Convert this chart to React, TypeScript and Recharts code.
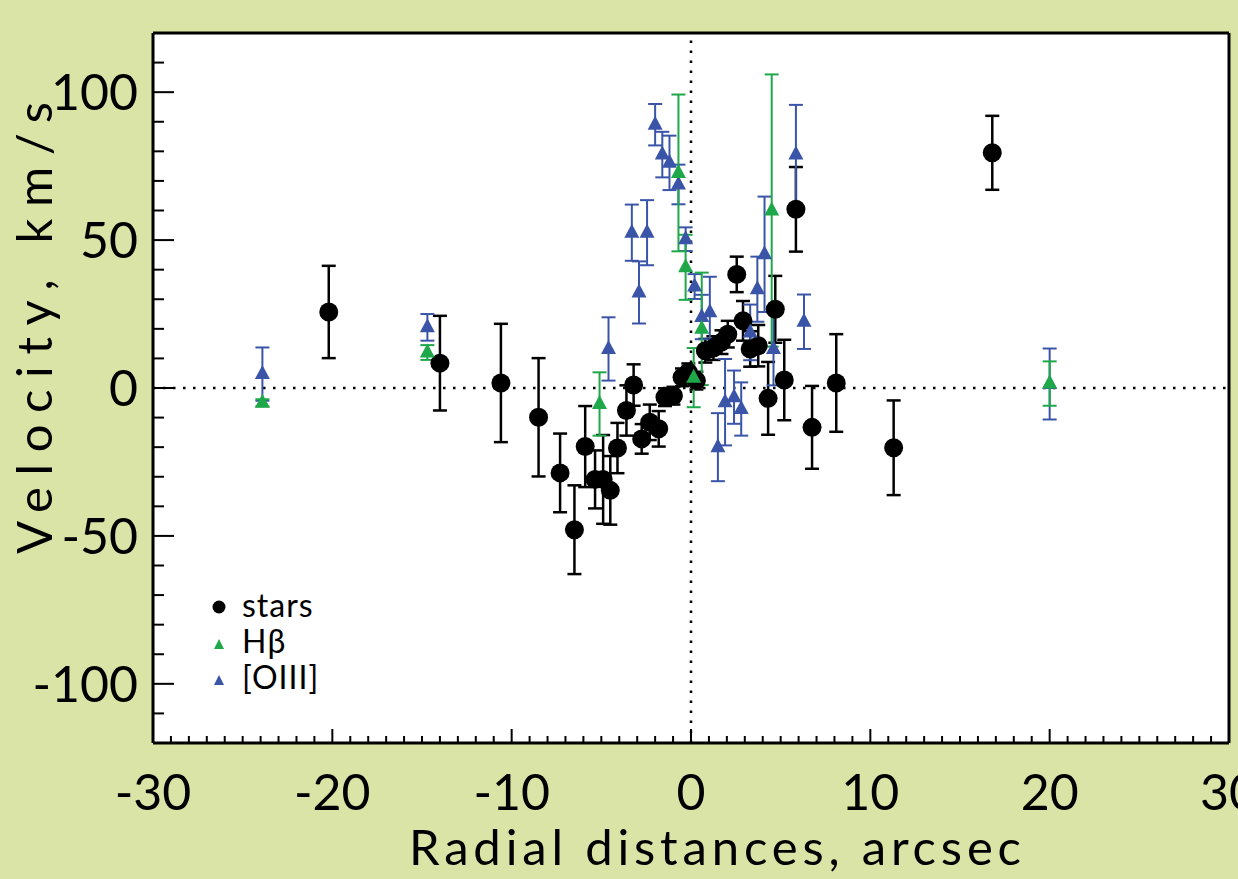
import React from 'react';
import { ScatterChart, Scatter, XAxis, YAxis, ErrorBar, ReferenceLine, CartesianGrid } from 'recharts';

// stars (black circles)
const starX = [-20.2, -14.0, -10.6, -8.5, -7.3, -6.5, -5.9, -5.35, -4.9, -4.5, -4.1, -3.6, -3.2, -2.75, -2.3, -1.8, -1.45, -0.98, -0.5, -0.15, 0.3, 0.8, 1.25, 1.7, 2.05, 2.55, 2.9, 3.3, 3.75, 4.3, 4.7, 5.2, 5.85, 6.75, 8.1, 11.3, 16.8];
const starY = [25.7, 8.4, 1.7, -9.9, -28.7, -47.9, -19.8, -30.9, -30.9, -34.6, -20.3, -7.6, 1.0, -17.2, -11.6, -13.8, -3.1, -2.6, 3.6, 5.3, 2.5, 12.6, 13.5, 15.5, 18.2, 38.4, 22.7, 13.2, 14.3, -3.5, 26.6, 2.7, 60.4, -13.3, 1.7, -20.2, 79.5];
const starErr = [15.6, 16, 20, 20, 13.3, 15, 13.7, 9.8, 15, 11.6, 8.5, 8.5, 7, 5, 6, 6, 3, 3, 3, 3, 3, 4, 4, 4, 4.5, 6, 6.7, 6, 7, 12.3, 11.3, 13.6, 14.3, 14, 16.5, 16, 12.5];

// [OIII] (blue triangles)
const oiiiX = [-23.9, -14.7, -4.6, -3.3, -2.9, -2.45, -2.0, -1.6, -1.2, -0.7, -0.3, 0.2, 0.6, 1.05, 1.5, 1.9, 2.4, 2.8, 3.3, 3.7, 4.1, 4.6, 5.85, 6.3, 20.0];
const oiiiY = [4.7, 20.5, 13.2, 52.5, 32.3, 52.5, 89, 78.9, 76.1, 68.8, 50.3, 34.3, 24, 25.6, -20, -4.8, -3.1, -7.1, 18.8, 33.4, 45.2, 13.2, 78.9, 22.4, 1.35];
const oiiiErr = [9, 4.5, 10.7, 9.5, 10.5, 11, 7, 7.7, 9.2, 6.7, 4, 4.2, 7.5, 12, 11.5, 14.6, 9, 9, 9.4, 11, 19.5, 12.3, 16.8, 9.2, 12];

// Hbeta (green triangles)
const hbX = [-23.9, -14.7, -5.1, -0.7, -0.3, 0.15, 0.6, 4.5, 20.0];
const hbY = [-5, 12, -5.4, 72.7, 40.8, 3.5, 20, 60, 1.5];
const hbErr = [1.2, 2.5, 10.7, 26.5, 11, 10, 19, 46, 7.5];

const xTicks = Array.from({ length: 61 }, (_, i) => i - 30);
const yTicks = Array.from({ length: 25 }, (_, i) => i * 10 - 120);

const BG = '#dae4a6';
const BLUE = '#3a55a8';
const GREEN = '#1fa84a';
const FONT = 'Lato, "DejaVu Sans", sans-serif';

const toRows = (xs: number[], ys: number[], es: number[]) =>
  xs.map((x, i) => ({ x, y: ys[i], err: es[i] }));

const stars = toRows(starX, starY, starErr);
const oiii = toRows(oiiiX, oiiiY, oiiiErr);
const hb = toRows(hbX, hbY, hbErr);

const BottomTick = (props: any) => {
  const { x, y, payload } = props;
  const v = payload.value;
  const major = v % 10 === 0;
  return (
    <g>
      <line x1={x} x2={x} y1={y} y2={y - (major ? 14 : 7)} stroke="#000" strokeWidth={2} />
      {major && (
        <text x={x} y={y + 67} textAnchor="middle" fontSize={50} fontFamily={FONT} fill="#000">
          {String(v)}
        </text>
      )}
    </g>
  );
};

const TopTick = (props: any) => {
  const { x, y, payload } = props;
  const major = payload.value % 10 === 0;
  return <line x1={x} x2={x} y1={y} y2={y + (major ? 14 : 7)} stroke="#000" strokeWidth={2} />;
};

const LeftTick = (props: any) => {
  const { x, y, payload } = props;
  const v = payload.value;
  const major = v % 50 === 0;
  return (
    <g>
      <line x1={x} x2={x + (major ? 21 : 11)} y1={y} y2={y} stroke="#000" strokeWidth={2} />
      {major && Math.abs(v) <= 100 && (
        <text x={x - 15} y={y + 18} textAnchor="end" fontSize={50} fontFamily={FONT} fill="#000">
          {String(v)}
        </text>
      )}
    </g>
  );
};

const RightTick = (props: any) => {
  const { x, y, payload } = props;
  const major = payload.value % 50 === 0;
  return <line x1={x} x2={x - (major ? 21 : 11)} y1={y} y2={y} stroke="#000" strokeWidth={2} />;
};

const Circle = (props: any) => <circle cx={props.cx} cy={props.cy} r={9.5} fill="#000" />;

const makeTriangle = (color: string) => (props: any) => {
  const { cx, cy } = props;
  return <polygon points={`${cx},${cy - 9} ${cx - 7.5},${cy + 5} ${cx + 7.5},${cy + 5}`} fill={color} />;
};

const BlueTri = makeTriangle(BLUE);
const GreenTri = makeTriangle(GREEN);

const axisLine = { stroke: '#000', strokeWidth: 3 };

export default function App() {
  return (
    <div style={{ position: 'absolute', left: 0, top: 0, width: 1238, height: 879, background: BG }}>
      <ScatterChart width={1238} height={879} margin={{ top: 0, right: 0, bottom: 0, left: 0 }}>
        <CartesianGrid fill="#ffffff" horizontal={false} vertical={false} xAxisId="bottom" yAxisId="left" />
        <XAxis
          xAxisId="bottom"
          type="number"
          dataKey="x"
          domain={[-30, 30]}
          ticks={xTicks}
          interval={0}
          height={136}
          tickSize={0}
          tickMargin={0}
          tickLine={false}
          axisLine={axisLine}
          tick={<BottomTick />}
          label={{
            content: () => (
              <text
                x={715}
                y={865}
                textAnchor="middle"
                fontSize={49}
                fontFamily={FONT}
                fill="#000"
                textLength={612}
                lengthAdjust="spacing"
              >
                Radial distances, arcsec
              </text>
            ),
          }}
        />
        <XAxis
          xAxisId="top"
          orientation="top"
          type="number"
          dataKey="x"
          domain={[-30, 30]}
          ticks={xTicks}
          interval={0}
          height={33}
          tickSize={0}
          tickMargin={0}
          tickLine={false}
          axisLine={axisLine}
          tick={<TopTick />}
        />
        <YAxis
          yAxisId="left"
          type="number"
          dataKey="y"
          domain={[-120, 120]}
          ticks={yTicks}
          interval={0}
          width={153}
          tickSize={0}
          tickMargin={0}
          tickLine={false}
          axisLine={axisLine}
          tick={<LeftTick />}
          label={{
            content: () => (
              <text
                x={52}
                y={328}
                transform="rotate(-90, 52, 328)"
                textAnchor="middle"
                fontSize={49}
                fontFamily={FONT}
                fill="#000"
                textLength={452}
                lengthAdjust="spacing"
              >
                Velocity, km/s
              </text>
            ),
          }}
        />
        <YAxis
          yAxisId="right"
          orientation="right"
          type="number"
          dataKey="y"
          domain={[-120, 120]}
          ticks={yTicks}
          interval={0}
          width={9}
          tickSize={0}
          tickMargin={0}
          tickLine={false}
          axisLine={axisLine}
          tick={<RightTick />}
        />
        <ReferenceLine xAxisId="bottom" yAxisId="left" y={0} stroke="#000" strokeWidth={2.5} strokeDasharray="2.5 7.5" />
        <ReferenceLine xAxisId="bottom" yAxisId="left" x={0} stroke="#000" strokeWidth={2.5} strokeDasharray="2.5 7.5" />
        <Scatter xAxisId="bottom" yAxisId="left" data={stars} shape={<Circle />} isAnimationActive={false}>
          <ErrorBar dataKey="err" direction="y" width={7} stroke="#000" strokeWidth={2.5} />
        </Scatter>
        <Scatter xAxisId="bottom" yAxisId="left" data={oiii} shape={<BlueTri />} isAnimationActive={false}>
          <ErrorBar dataKey="err" direction="y" width={7} stroke={BLUE} strokeWidth={2} />
        </Scatter>
        <Scatter xAxisId="bottom" yAxisId="left" data={hb} shape={<GreenTri />} isAnimationActive={false}>
          <ErrorBar dataKey="err" direction="y" width={7} stroke={GREEN} strokeWidth={2} />
        </Scatter>
      </ScatterChart>
      <svg width={200} height={130} style={{ position: 'absolute', left: 190, top: 580 }}>
        <circle cx={29} cy={27} r={6.5} fill="#000" />
        <text x={52} y={37} fontSize={32} fontFamily={FONT} fill="#000" letterSpacing={1}>stars</text>
        <polygon points="29,59 24,69 34,69" fill={GREEN} />
        <text x={52} y={73} fontSize={32} fontFamily={FONT} fill="#000" letterSpacing={1}>Hβ</text>
        <polygon points="29,95 24,105 34,105" fill={BLUE} />
        <text x={52} y={109} fontSize={32} fontFamily={FONT} fill="#000" letterSpacing={1}>[OIII]</text>
      </svg>
    </div>
  );
}
